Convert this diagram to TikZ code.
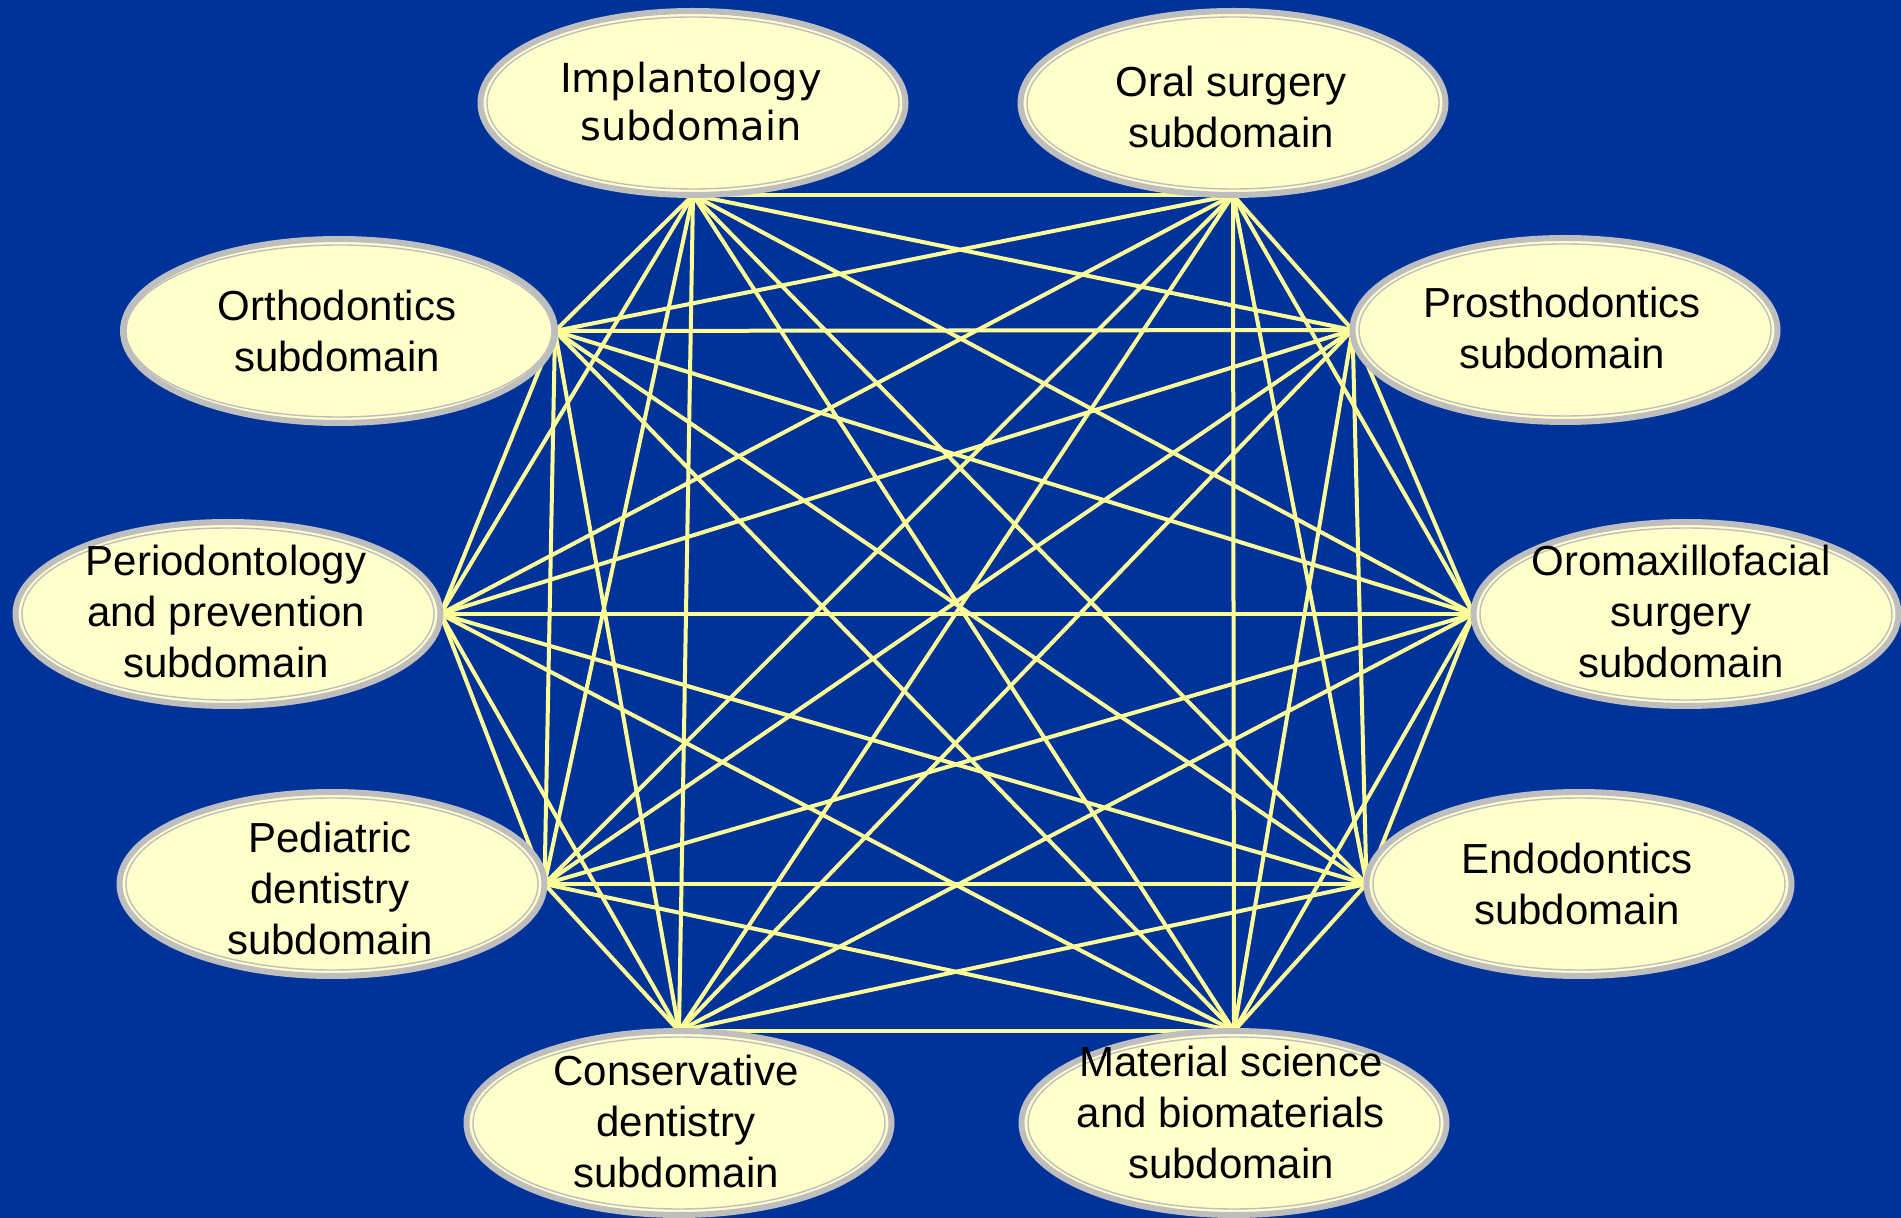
\documentclass[tikz,border=0pt]{standalone}
\usepackage{fontspec}
\setmainfont{Liberation Sans}
\newfontfamily\lucidafont{DejaVu Sans}
\usetikzlibrary{shapes.geometric}
\definecolor{bgblue}{RGB}{0,51,153}
\definecolor{nodefill}{RGB}{255,255,204}
\definecolor{rimgray}{RGB}{190,190,190}
\definecolor{linkyellow}{RGB}{255,255,153}
\pgfdeclarelayer{bg}
\pgfsetlayers{bg,main}
\begin{document}
\begin{tikzpicture}[x=0.5pt,y=-0.5pt,
  dom/.style={ellipse, fill=nodefill, draw=rimgray, line width=3pt,
    minimum width=212.5pt, minimum height=92pt, inner sep=0pt, outer sep=0pt},
  txt/.style={align=center, inner sep=0pt, text=black,
    font=\fontsize{21}{25.5}\selectfont},
  txtl/.style={align=center, inner sep=0pt, text=black,
    font=\lucidafont\fontsize{20}{24}\selectfont},
  link/.style={draw=linkyellow, line width=2pt}]
\useasboundingbox (0,0) rectangle (1901,1218);

% ellipses
\node[dom] (impl)   at (693,103)  {};
\node[dom] (oral)   at (1233,103) {};
\node[dom, minimum width=216pt] (orth)   at (339,331)  {};
\node[dom] (pros)   at (1565,330) {};
\node[dom] (peri)   at (228,614)  {};
\node[dom] (oromax) at (1686,614) {};
\node[dom] (pedi)   at (332,884)  {};
\node[dom] (endo)   at (1579,884) {};
\node[dom] (cons)   at (679,1123) {};
\node[dom] (mat)    at (1234,1123) {};

% inner thin rims
\foreach \n in {impl,oral,pros,peri,oromax,pedi,endo,cons,mat}
  \draw[rimgray, line width=0.7pt] (\n.center) ellipse [x radius=206, y radius=86];
\draw[rimgray, line width=0.7pt] (orth.center) ellipse [x radius=213, y radius=86];

% texts
\node[txtl] (implt) at (691,101.5) {Implantology\\subdomain};
\node[txt] (oralt) at (1231,107) {Oral surgery\\subdomain};
\node[txt] (ortht) at (337,331) {Orthodontics\\subdomain};
\node[txt] (prost) at (1562,327.5) {Prosthodontics\\subdomain};
\node[txt] (perit) at (226,611) {Periodontology\\and prevention\\subdomain};
\node[txt] (oromaxt) at (1681,611) {Oromaxillofacial\\surgery\\subdomain};
\node[txt] (pedit) at (330,888) {Pediatric\\dentistry\\subdomain};
\node[txt] (endot) at (1577,883.5) {Endodontics\\subdomain};
\node[txt] (const) at (676,1121) {Conservative\\dentistry\\subdomain};
\node[txt] (matt) at (1231,1112.5) {Material science\\and biomaterials\\subdomain};

% connection points
\coordinate (pA) at (impl.south);
\coordinate (pB) at (oral.south);
\coordinate (pC) at (orth.east);
\coordinate (pD) at (pros.west);
\coordinate (pE) at (peri.east);
\coordinate (pF) at (oromax.west);
\coordinate (pG) at (pedi.east);
\coordinate (pH) at (endo.west);
\coordinate (pI) at (cons.north);
\coordinate (pJ) at (mat.north);

\begin{pgfonlayer}{bg}
  \fill[bgblue] (0,0) rectangle (1901,1218);
  \foreach [count=\i] \a in {pA,pB,pC,pD,pE,pF,pG,pH,pI,pJ}{
    \foreach [count=\j] \b in {pA,pB,pC,pD,pE,pF,pG,pH,pI,pJ}{
      \ifnum\j>\i
        \draw[link] (\a) -- (\b);
      \fi
    }
  }
\end{pgfonlayer}
\end{tikzpicture}
\end{document}
